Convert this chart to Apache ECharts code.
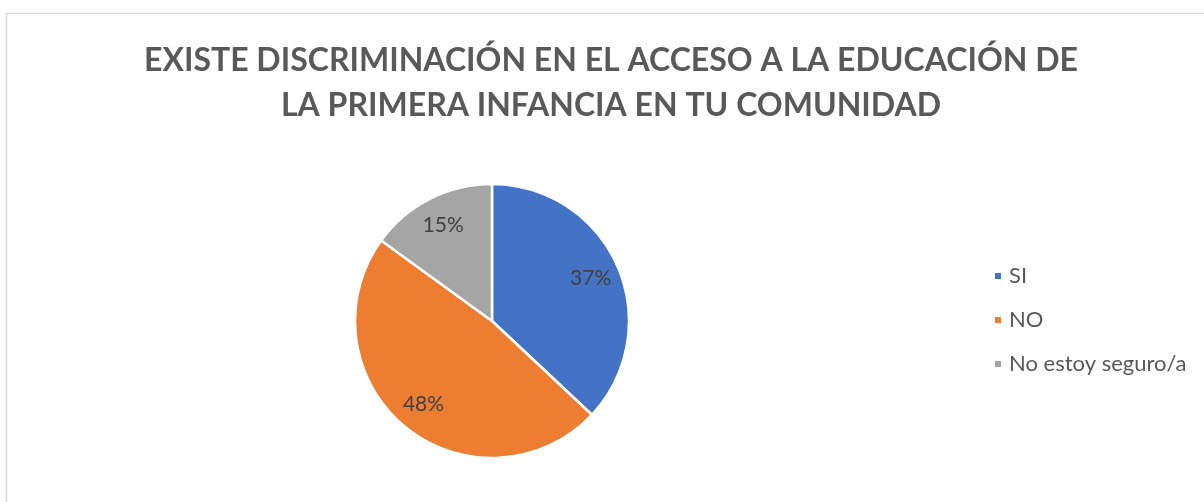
<!DOCTYPE html>
<html>
<head>
<meta charset="utf-8">
<script src="https://cdn.jsdelivr.net/npm/echarts@6/dist/echarts.min.js"></script>
<style>
  html, body { margin: 0; padding: 0; background: #fff; }
  #chart { width: 1204px; height: 502px; }
</style>
</head>
<body>
<div id="chart"></div>
<script>
// datos
var categories = ['SI', 'NO', 'No estoy seguro/a'];
var values = [37, 48, 15];
var colors = ['#4472c4', '#ed7d31', '#a5a5a5'];
var titleText = 'EXISTE DISCRIMINACIÓN EN EL ACCESO A LA EDUCACIÓN DE\nLA PRIMERA INFANCIA EN TU COMUNIDAD';

var pieData = categories.map(function (name, i) {
    return { name: name, value: values[i] };
});

var chart = echarts.init(document.getElementById('chart'));

var option = {
    color: colors,
    animation: false,
    title: {
        text: titleText,
        left: 606,
        top: 33,
        textAlign: 'center',
        textStyle: {
            fontFamily: 'Lato',
            fontWeight: 'bold',
            fontSize: 32,
            lineHeight: 45,
            color: '#595959'
        }
    },
    graphic: [{
        type: 'rect',
        shape: { x: 6.5, y: 13.5, width: 1400, height: 700 },
        style: { fill: 'none', stroke: '#d9d9d9', lineWidth: 1.5 },
        silent: true
    }],
    legend: {
        orient: 'vertical',
        left: 988,
        top: 260,
        itemWidth: 8,
        itemHeight: 8,
        itemGap: 22,
        icon: 'rect',
        data: categories,
        textStyle: {
            fontFamily: 'Lato',
            fontSize: 22,
            color: '#595959',
            padding: [0, 0, 0, 2]
        }
    },
    series: [{
        // sectores
        type: 'pie',
        center: [492, 321],
        radius: 137,
        startAngle: 90,
        clockwise: true,
        data: pieData,
        itemStyle: { borderColor: '#fff', borderWidth: 2.5 },
        label: { show: false },
        labelLine: { show: false },
        emphasis: { disabled: true }
    }, {
        // anillo invisible solo para colocar las etiquetas a ~0.76 r
        type: 'pie',
        center: [492, 321],
        radius: [72, 137],
        startAngle: 90,
        clockwise: true,
        silent: true,
        data: pieData,
        itemStyle: { color: 'transparent', borderWidth: 0 },
        label: {
            show: true,
            position: 'inside',
            formatter: '{c}%',
            fontFamily: 'Lato',
            fontSize: 21,
            color: '#404040'
        },
        labelLine: { show: false },
        emphasis: { disabled: true }
    }]
};

chart.setOption(option);
</script>
</body>
</html>
